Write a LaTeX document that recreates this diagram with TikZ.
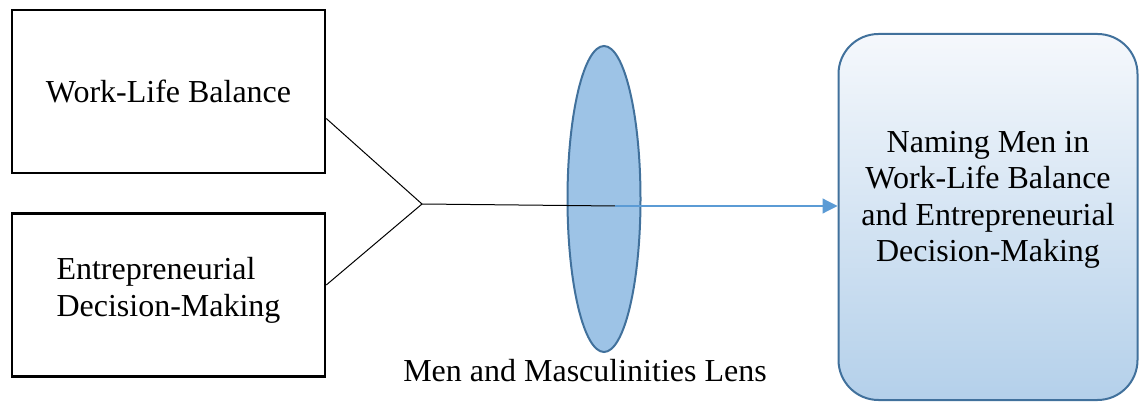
\documentclass[tikz,border=0pt]{standalone}
\usepackage{fontspec}
\setmainfont{Liberation Serif}
\usetikzlibrary{shapes.geometric,arrows.meta,positioning}
\definecolor{lensblue}{RGB}{157,195,230}
\definecolor{edgeblue}{RGB}{65,113,156}
\definecolor{arrowblue}{RGB}{91,155,213}
\definecolor{shadetop}{RGB}{245,248,252}
\definecolor{shadebot}{RGB}{180,208,234}
\tikzset{
  factorbox/.style={rectangle,draw=black,line width=2.5pt,minimum width=313pt,minimum height=163pt,align=left,font=\fontsize{32}{37}\selectfont},
  lensnode/.style={ellipse,draw=edgeblue,fill=lensblue,line width=2pt,minimum width=73pt,minimum height=306pt},
  outbox/.style={rectangle,rounded corners=40pt,draw=edgeblue,line width=2pt,top color=shadetop,bottom color=shadebot,minimum width=299pt,minimum height=366pt,align=center,font=\fontsize{32}{36.5}\selectfont},
  lenslabel/.style={font=\fontsize{32}{36}\selectfont},
  joinline/.style={draw=black,line width=1pt},
  bluearr/.style={-{Triangle[length=15pt,width=15pt]},draw=arrowblue,line width=1.2pt}
}

\begin{document}
\begin{tikzpicture}[x=1pt,y=-1pt]
  \useasboundingbox (0,0) rectangle (1141,403);

  %% two factors
  \node[factorbox] (wlb) at (168.5,91.5) {Work-Life Balance};
  \node[factorbox,text depth=16pt] (edm) at (168.5,295) {Entrepreneurial\\Decision-Making};

  %% lens
  \node[lensnode] (lens) at (604,199) {};
  \node[lenslabel,below=3pt of lens,xshift=-19pt] (lenstext) {Men and Masculinities Lens};

  %% outcome
  \node[outbox,text depth=41pt] (naming) at (988,217)
    {Naming Men in\\Work-Life Balance\\and Entrepreneurial\\Decision-Making};

  \coordinate (join) at (422,204);
  \coordinate (mid) at (615,206);

  \draw[joinline] ([yshift=-27pt]wlb.east) -- (join);
  \draw[joinline] ([yshift=10pt]edm.east) -- (join);
  \draw[joinline] (join) -- (mid);
  \draw[bluearr] (mid) -- (mid -| naming.west);
\end{tikzpicture}
\end{document}
